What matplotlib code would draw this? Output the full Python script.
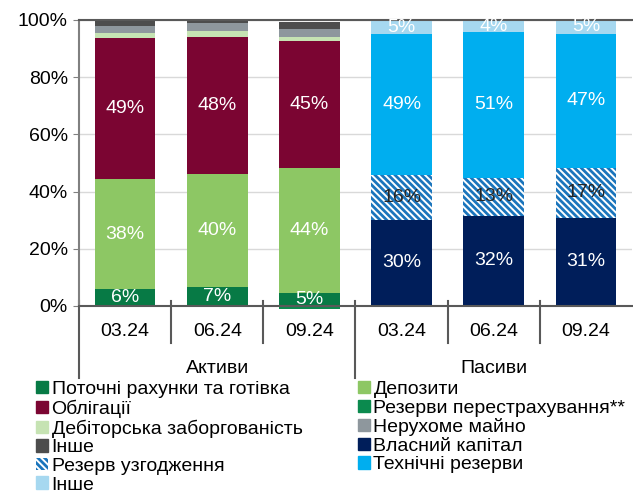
import matplotlib

matplotlib.use("Agg")

import matplotlib.pyplot as plt
import numpy as np
from matplotlib.patches import Patch

plt.rcParams["font.family"] = ["Liberation Sans", "DejaVu Sans"]
plt.rcParams["hatch.linewidth"] = 2.0

# category labels
periods = ["03.24", "06.24", "09.24"]
groups = ["Активи", "Пасиви"]

# assets, % of total
current_accounts = [5.9, 6.6, 4.6]
deposits = [38.4, 39.7, 43.6]
bonds = [49.4, 47.8, 44.6]
reinsurance = [0.0, 0.0, -1.0]
receivables = [1.7, 1.9, 1.4]
real_estate = [2.6, 3.0, 2.6]
other_assets = [2.0, 1.0, 2.5]

# liabilities, % of total
equity = [30.1, 31.6, 30.9]
reconciliation = [15.7, 13.2, 17.4]
technical = [49.2, 51.0, 46.9]
other_liab = [5.0, 4.2, 4.8]

C_CURRENT = "#077a45"
C_DEPOSITS = "#8dc764"
C_BONDS = "#7b0532"
C_REINS = "#0b8a4e"
C_RECEIV = "#c6e3b3"
C_REAL = "#8e979d"
C_OTHER_A = "#4d4d4d"
C_EQUITY = "#001e5a"
C_RECON = "#1b75bc"
C_TECH = "#00aeef"
C_OTHER_L = "#a6d8f0"
HATCH = "\\" * 5

FS = 14

fig = plt.figure(figsize=(6.33, 4.95), dpi=100)
ax = fig.add_axes([79 / 633, 1 - 306 / 495, 553 / 633, 286 / 495])

xa = np.arange(3)
xl = np.arange(3, 6)
w = 0.66


def stack(x, series, colors, label_colors, show):
    bottom = np.zeros(len(x))
    for vals, col, lc, sh in zip(series, colors, label_colors, show):
        vals = np.array(vals)
        if col == "hatch":
            ax.bar(x, vals, w, bottom=bottom, color="white", edgecolor=C_RECON,
                   hatch=HATCH, linewidth=0, zorder=2)
        else:
            ax.bar(x, vals, w, bottom=bottom, color=col, linewidth=0, zorder=2,
                   clip_on=False)
        if sh:
            for xi, b, v in zip(x, bottom, vals):
                ax.text(xi, b + v / 2, f"{v:.0f}%", ha="center", va="center",
                        color=lc, fontsize=FS, zorder=4)
        bottom = bottom + vals


stack(xa, [current_accounts, deposits, bonds, receivables, real_estate, other_assets],
      [C_CURRENT, C_DEPOSITS, C_BONDS, C_RECEIV, C_REAL, C_OTHER_A],
      ["white"] * 6, [True, True, True, False, False, False])
ax.bar(xa, reinsurance, w, color=C_REINS, linewidth=0, zorder=2, clip_on=False)

stack(xl, [equity, reconciliation, technical, other_liab],
      [C_EQUITY, "hatch", C_TECH, C_OTHER_L],
      ["white", "#262626", "white", "white"], [True, True, True, True])

ax.set_xlim(-0.5, 5.5)
ax.set_ylim(0, 100)
ax.set_yticks(np.arange(0, 101, 20))
ax.set_yticklabels([f"{v}%" for v in range(0, 101, 20)], fontsize=FS)
ax.set_xticks([])
ax.tick_params(axis="y", length=4, color="#808080", pad=4)
ax.yaxis.grid(True, color="#d9d9d9", linewidth=1, zorder=0)
ax.set_axisbelow(True)
ax.spines["right"].set_visible(False)
ax.spines["left"].set_color("#808080")
ax.spines["left"].set_linewidth(1.5)
ax.spines["bottom"].set_color("#595959")
ax.spines["bottom"].set_linewidth(1.5)
ax.spines["top"].set_color("#595959")
ax.spines["top"].set_linewidth(1.5)

# two-level category axis
trans = ax.get_xaxis_transform()
for xd in [0.5, 1.5, 3.5, 4.5]:
    ax.plot([xd, xd], [0.017, -0.129], transform=trans, color="#595959",
            lw=1.5, clip_on=False)
for xd in [-0.5, 2.5]:
    ax.plot([xd, xd], [0.017, -0.252], transform=trans, color="#595959",
            lw=1.5, clip_on=False)
for i, lab in enumerate(periods * 2):
    ax.text(i, -0.09, lab, transform=trans, ha="center", va="center", fontsize=FS)
for i, g in enumerate(groups):
    ax.text(1 + 3 * i, -0.217, g, transform=trans, ha="center", va="center", fontsize=FS)

# legend, row-wise order as in the source
entries = [
    (Patch(color=C_CURRENT), "Поточні рахунки та готівка"),
    (Patch(color=C_DEPOSITS), "Депозити"),
    (Patch(color=C_BONDS), "Облігації"),
    (Patch(color=C_REINS), "Резерви перестрахування**"),
    (Patch(color=C_RECEIV), "Дебіторська заборгованість"),
    (Patch(color=C_REAL), "Нерухоме майно"),
    (Patch(color=C_OTHER_A), "Інше"),
    (Patch(color=C_EQUITY), "Власний капітал"),
    (Patch(facecolor="white", edgecolor=C_RECON, hatch=HATCH, linewidth=0), "Резерв узгодження"),
    (Patch(color=C_TECH), "Технічні резерви"),
    (Patch(color=C_OTHER_L), "Інше"),
]
order = [0, 2, 4, 6, 8, 10, 1, 3, 5, 7, 9]
fig.legend([entries[i][0] for i in order], [entries[i][1] for i in order],
           loc="upper left", bbox_to_anchor=(36 / 633, 1 - 381 / 495), ncol=2,
           frameon=False, fontsize=FS, handlelength=0.6, handleheight=0.6,
           handletextpad=0.2, labelspacing=0.08, columnspacing=2.85, borderpad=0,
           borderaxespad=0)

fig.savefig("out.png", dpi=100)
